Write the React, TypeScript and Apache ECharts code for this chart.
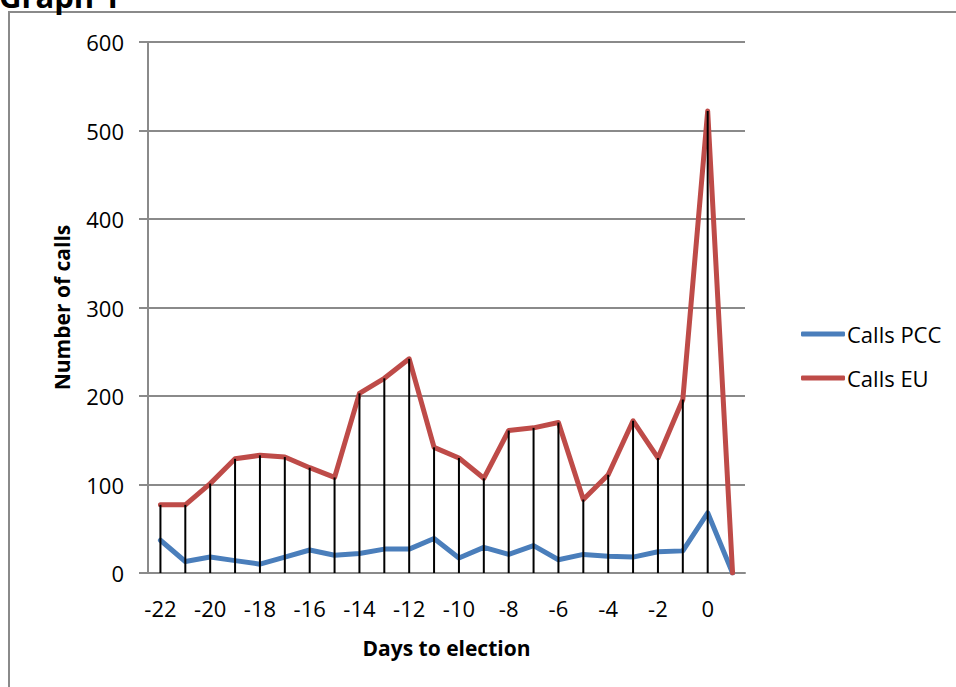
import React, { useEffect, useRef } from "react";
import * as echarts from "echarts";

const categories = ["-22","-21","-20","-19","-18","-17","-16","-15","-14","-13","-12","-11","-10","-9","-8","-7","-6","-5","-4","-3","-2","-1","0","1"];
const callsPCC = [37, 13, 18, 14, 10, 18, 26, 20, 22, 27, 27, 39, 17, 29, 21, 31, 15, 21, 19, 18, 24, 25, 68, 0];
const callsEU = [77, 77, 101, 129, 133, 131, 119, 108, 203, 220, 242, 142, 130, 107, 161, 164, 170, 83, 111, 172, 130, 196, 522, 0];
const dropLines = callsPCC.map((v, i) => Math.max(v, callsEU[i]));

const FONT = "'Open Sans', 'Noto Sans', sans-serif";

export default function App() {
  const ref = useRef<HTMLDivElement>(null);
  useEffect(() => {
    if (!ref.current) return;
    const chart = echarts.init(ref.current, undefined, { renderer: "svg" });
    chart.setOption({
      animation: false,
      backgroundColor: "#ffffff",
      textStyle: { fontFamily: FONT },
      grid: { left: 148, right: 211, top: 42, bottom: 114, containLabel: false },
      graphic: [
        {
          type: "rect",
          z: -10,
          shape: { x: 9, y: 12, width: 1100, height: 1000 },
          style: { fill: "none", stroke: "#8a8a8a", lineWidth: 2 },
        },
        {
          type: "text",
          left: -1,
          top: -20,
          style: { text: "Graph 1", font: `bold 31px ${FONT}`, fill: "#000" },
        },
      ],
      legend: {
        orient: "vertical",
        left: 796,
        top: 318,
        itemWidth: 44,
        itemHeight: 5,
        itemGap: 22,
        icon: "roundRect",
        data: ["Calls PCC", "Calls EU"],
        textStyle: { fontFamily: FONT, fontSize: 22, color: "#000", padding: [0, 0, 0, -3] },
      },
      xAxis: {
        type: "category",
        data: categories,
        boundaryGap: true,
        axisLine: { lineStyle: { color: "#8a8a8a", width: 2 } },
        axisTick: { show: false },
        axisLabel: { interval: 1, fontSize: 22, color: "#000", margin: 24, fontFamily: FONT },
        name: "Days to election",
        nameLocation: "middle",
        nameGap: 64,
        nameTextStyle: { fontFamily: FONT, fontSize: 21, fontWeight: "bold", color: "#000" },
      },
      yAxis: {
        type: "value",
        min: 0,
        max: 600,
        interval: 100,
        axisLine: { show: true, lineStyle: { color: "#8a8a8a", width: 2 } },
        axisTick: { show: true, length: 9, lineStyle: { color: "#8a8a8a", width: 2 } },
        axisLabel: { fontSize: 22, color: "#000", margin: 24, fontFamily: FONT },
        splitLine: { lineStyle: { color: "#8a8a8a", width: 2 } },
        name: "Number of calls",
        nameLocation: "middle",
        nameGap: 76,
        nameRotate: 90,
        nameTextStyle: { fontFamily: FONT, fontSize: 21, fontWeight: "bold", color: "#000" },
      },
      series: [
        {
          name: "drop",
          type: "bar",
          data: dropLines,
          barWidth: 2,
          itemStyle: { color: "#000" },
          silent: true,
          z: 3,
        },
        {
          name: "Calls PCC",
          type: "line",
          data: callsPCC,
          showSymbol: false,
          symbol: "none",
          lineStyle: { color: "#4A7EBB", width: 5, join: "round", cap: "round" },
          itemStyle: { color: "#4A7EBB" },
          z: 2,
        },
        {
          name: "Calls EU",
          type: "line",
          data: callsEU,
          showSymbol: false,
          symbol: "none",
          lineStyle: { color: "#BE4B48", width: 5, join: "round", cap: "round" },
          itemStyle: { color: "#BE4B48" },
          z: 2,
        },
      ],
    });
    return () => chart.dispose();
  }, []);
  return (
    <div
      ref={ref}
      style={{ position: "fixed", left: 0, top: 0, width: 956, height: 687 }}
    />
  );
}
